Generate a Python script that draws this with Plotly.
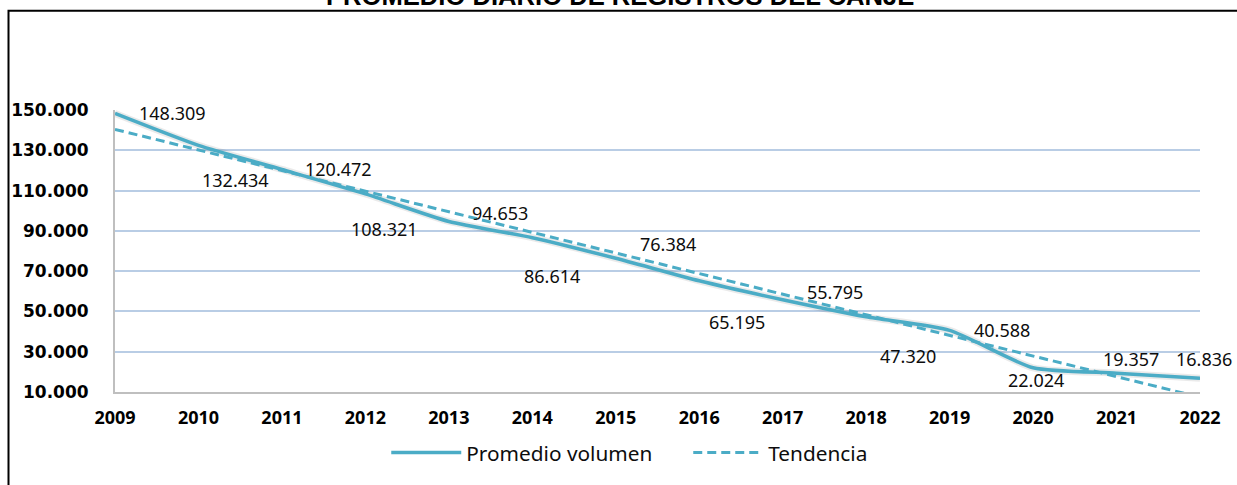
import plotly.graph_objects as go

years = [2009, 2010, 2011, 2012, 2013, 2014, 2015, 2016, 2017, 2018, 2019, 2020, 2021, 2022]
promedio = [148309, 132434, 120472, 108321, 94653, 86614, 76384, 65195, 55795, 47320, 40588, 22024, 19357, 16836]
trend_years = [2009, 2022]
trend_values = [140400, 7400]
y_ticks = [10000, 30000, 50000, 70000, 90000, 110000, 130000, 150000]
title_text = "PROMEDIO DIARIO DE REGISTROS DEL CANJE"

# label pixel offsets (dx, dy) relative to each point (dy positive = down)
label_offsets = [(57, 0), (37, 35), (57, 0), (19, 35), (51, -8), (20, 38), (52, -14),
                 (38, 41), (52, -8), (42, 39), (52, 0), (3, 12), (14, -14), (4, -19)]

COLOR = "#4BACC6"

fig = go.Figure()
# soft shadow under the main line
fig.add_trace(go.Scatter(
    x=years, y=promedio, mode="lines", showlegend=False, hoverinfo="skip",
    line=dict(color="rgba(90,90,90,0.13)", width=7, shape="spline", smoothing=0.6),
))
fig.add_trace(go.Scatter(
    x=years, y=promedio, mode="lines", name="Promedio volumen",
    line=dict(color=COLOR, width=3.5, shape="spline", smoothing=0.6),
))
fig.add_trace(go.Scatter(
    x=trend_years, y=trend_values, mode="lines", name="Tendencia",
    line=dict(color=COLOR, width=3, dash="9px,5px"),
))

def fmt(v):
    return f"{v:,}".replace(",", ".")

for x, v, (dx, dy) in zip(years, promedio, label_offsets):
    fig.add_annotation(x=x, y=v, text=fmt(v), showarrow=False, xshift=dx, yshift=-dy,
                       font=dict(family="Noto Sans", size=18, color="#0D0D0D"))

# title (cut off at the top of the image)
fig.add_annotation(xref="paper", yref="paper", x=0.465, y=1.404, yanchor="middle",
                   text=f"<b>{title_text}</b>", showarrow=False,
                   font=dict(family="Liberation Sans", size=25.6, color="#000000"))

# chart border (only top and left visible)
fig.add_shape(type="rect", xref="paper", yref="paper",
              x0=(8.5 - 115) / 1085, x1=1.2, y0=-1.0, y1=(392 - 10.7) / 282,
              line=dict(color="#000000", width=2), layer="below")

fig.update_layout(
    width=1237, height=485, autosize=False,
    margin=dict(l=115, r=37, t=110, b=93, pad=0),
    paper_bgcolor="white", plot_bgcolor="white",
    separators=",.",
    showlegend=True,
    legend=dict(orientation="h", x=0.25, y=-0.216, xanchor="left", yanchor="middle",
                font=dict(family="Noto Sans", size=20.8, color="#0D0D0D"),
                itemwidth=70, entrywidth=217, entrywidthmode="pixels",
                traceorder="normal"),
    xaxis=dict(range=[2009, 2022], tickmode="array", tickvals=years,
               ticktext=[str(y) for y in years], showgrid=False, zeroline=False,
               showline=True, linecolor="#BFBFBF", linewidth=2, ticks="",
               ticklabelstandoff=8,
               tickfont=dict(family="Open Sans", size=18, color="#000000", weight="bold")),
    yaxis=dict(range=[10000, 150000], tickmode="array", tickvals=y_ticks,
               tickformat=",d", showgrid=True, gridcolor="#B9CDE5", gridwidth=2,
               zeroline=False, showline=True, linecolor="#BFBFBF", linewidth=2, ticks="",
               ticklabelstandoff=21,
               tickfont=dict(family="DejaVu Sans", size=17, color="#000000", weight="bold")),
)

fig.write_html("out.html", config={"displayModeBar": False},
               post_script="document.body.style.margin='0';document.body.style.overflow='hidden';")
